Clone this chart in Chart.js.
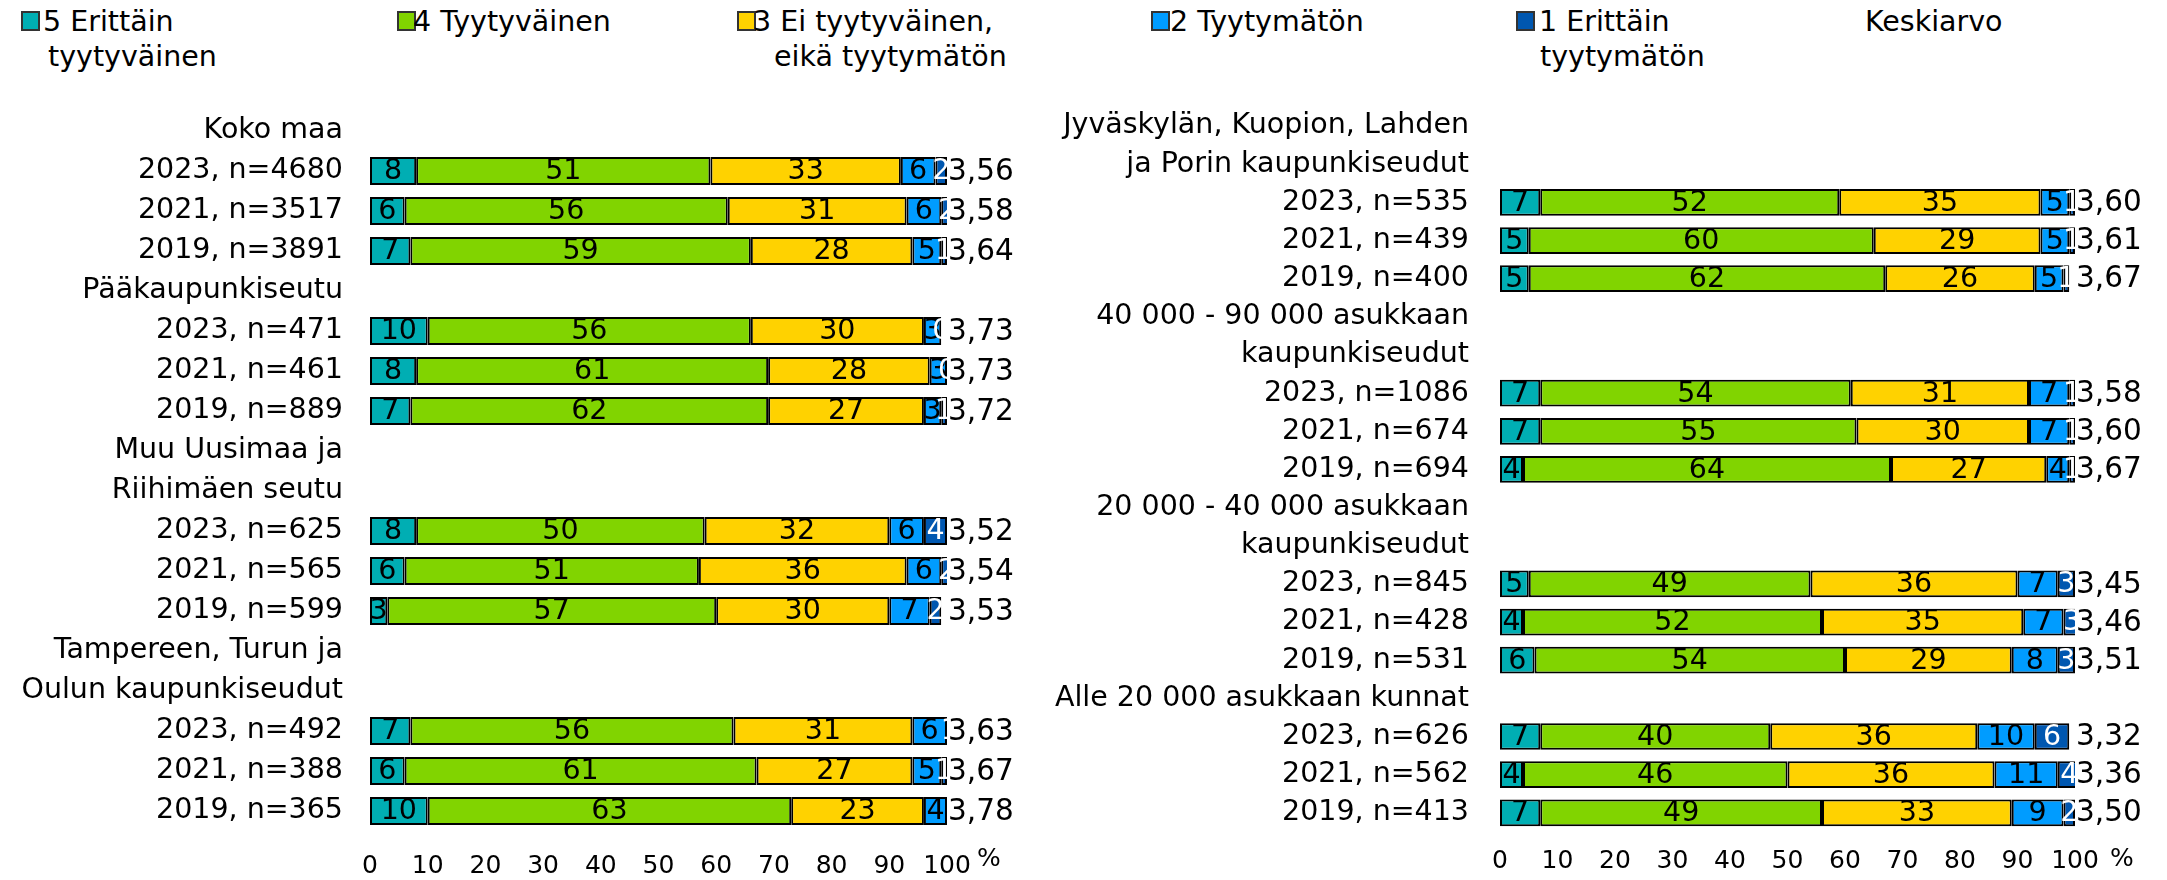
<!DOCTYPE html>
<html>
<head>
<meta charset="utf-8">
<script src="https://cdn.jsdelivr.net/npm/chart.js@4"></script>
<style>
  body { margin: 0; background: #fff; width: 2167px; height: 880px; overflow: hidden; position: relative;
         font-family: "DejaVu Sans", sans-serif; color: #000; }
  #left { position: absolute; left: 0; top: 0; }
  #right { position: absolute; left: 1040px; top: 0; }
  .lg { position: absolute; font-size: 28.5px; line-height: 35px; white-space: nowrap; }
  .box { position: absolute; width: 15px; height: 16px; border: 2px solid #333; }
</style>
</head>
<body>
<div class="box" style="left:21px;top:11px;background:#00AEB3"></div>
<div class="lg" style="left:43px;top:4px">5 Erittäin</div>
<div class="lg" style="left:48px;top:39px">tyytyväinen</div>
<div class="box" style="left:397px;top:11px;background:#81D400"></div>
<div class="lg" style="left:413px;top:4px">4 Tyytyväinen</div>
<div class="box" style="left:737px;top:11px;background:#FFD200"></div>
<div class="lg" style="left:753px;top:4px">3 Ei tyytyväinen,</div>
<div class="lg" style="left:774px;top:39px">eikä tyytymätön</div>
<div class="box" style="left:1151px;top:11px;background:#009CFF"></div>
<div class="lg" style="left:1170px;top:4px">2 Tyytymätön</div>
<div class="box" style="left:1516px;top:11px;background:#0057B0"></div>
<div class="lg" style="left:1539px;top:4px">1 Erittäin</div>
<div class="lg" style="left:1540px;top:39px">tyytymätön</div>
<div class="lg" style="left:1865px;top:4px">Keskiarvo</div>

<canvas id="left" width="1040" height="880"></canvas>
<canvas id="right" width="1127" height="880"></canvas>

<script>
"use strict";
const series_names = ["5 Erittäin tyytyväinen", "4 Tyytyväinen", "3 Ei tyytyväinen, eikä tyytymätön", "2 Tyytymätön", "1 Erittäin tyytymätön"];
const colors = ["#00AEB3", "#81D400", "#FFD200", "#009CFF", "#0057B0"];
const label_colors = ["#000", "#000", "#000", "#000", "#FFF"];
const x_ticks = [0, 10, 20, 30, 40, 50, 60, 70, 80, 90, 100];

// left panel
const left_labels = ["Koko maa", "2023, n=4680", "2021, n=3517", "2019, n=3891",
  "Pääkaupunkiseutu", "2023, n=471", "2021, n=461", "2019, n=889",
  "Muu Uusimaa ja", "Riihimäen seutu", "2023, n=625", "2021, n=565", "2019, n=599",
  "Tampereen, Turun ja", "Oulun kaupunkiseudut", "2023, n=492", "2021, n=388", "2019, n=365"];
const left_5 = [null, 8, 6, 7, null, 10, 8, 7, null, null, 8, 6, 3, null, null, 7, 6, 10];
const left_4 = [null, 51, 56, 59, null, 56, 61, 62, null, null, 50, 51, 57, null, null, 56, 61, 63];
const left_3 = [null, 33, 31, 28, null, 30, 28, 27, null, null, 32, 36, 30, null, null, 31, 27, 23];
const left_2 = [null, 6, 6, 5, null, 3, 3, 3, null, null, 6, 6, 7, null, null, 6, 5, 4];
const left_1 = [null, 2, 2, 1, null, 0, 0, 1, null, null, 4, 2, 2, null, null, 1, 1, null];
const left_mean = [null, 3.56, 3.58, 3.64, null, 3.73, 3.73, 3.72, null, null, 3.52, 3.54, 3.53, null, null, 3.63, 3.67, 3.78];

// right panel
const right_labels = ["Jyväskylän, Kuopion, Lahden", "ja Porin kaupunkiseudut", "2023, n=535", "2021, n=439", "2019, n=400",
  "40 000 - 90 000 asukkaan", "kaupunkiseudut", "2023, n=1086", "2021, n=674", "2019, n=694",
  "20 000 - 40 000 asukkaan", "kaupunkiseudut", "2023, n=845", "2021, n=428", "2019, n=531",
  "Alle 20 000 asukkaan kunnat", "2023, n=626", "2021, n=562", "2019, n=413"];
const right_5 = [null, null, 7, 5, 5, null, null, 7, 7, 4, null, null, 5, 4, 6, null, 7, 4, 7];
const right_4 = [null, null, 52, 60, 62, null, null, 54, 55, 64, null, null, 49, 52, 54, null, 40, 46, 49];
const right_3 = [null, null, 35, 29, 26, null, null, 31, 30, 27, null, null, 36, 35, 29, null, 36, 36, 33];
const right_2 = [null, null, 5, 5, 5, null, null, 7, 7, 4, null, null, 7, 7, 8, null, 10, 11, 9];
const right_1 = [null, null, 1, 1, 1, null, null, 1, 1, 1, null, null, 3, 3, 3, null, 6, 4, 2];
const right_mean = [null, null, 3.60, 3.61, 3.67, null, null, 3.58, 3.60, 3.67, null, null, 3.45, 3.46, 3.51, null, 3.32, 3.36, 3.50];

const FONT = '"DejaVu Sans", sans-serif';
Chart.defaults.font.family = FONT;
Chart.defaults.font.size = 28.5;
Chart.defaults.color = "#000";

const seg_labels = {
  id: "seg_labels",
  afterDatasetsDraw(chart, args, opts) {
    const ctx = chart.ctx;
    const xs = chart.scales.x, ys = chart.scales.y;
    ctx.save();
    ctx.font = "28.5px " + FONT;
    ctx.textBaseline = "middle";
    ctx.textAlign = "center";
    chart.data.datasets.forEach((ds, i) => {
      chart.getDatasetMeta(i).data.forEach((bar, j) => {
        const v = ds.data[j];
        if (v == null) return;
        ctx.fillStyle = label_colors[i];
        ctx.fillText(String(v), (bar.x + bar.base) / 2, ys.getPixelForValue(j) + 1);
      });
    });
    ctx.textAlign = "left";
    ctx.fillStyle = "#000";
    ctx.font = "29.5px " + FONT;
    opts.means.forEach((m, j) => {
      if (m == null) return;
      ctx.fillText(m.toFixed(2).replace(".", ","), xs.getPixelForValue(100) + 1, ys.getPixelForValue(j) + 1);
    });
    ctx.font = "25px " + FONT;
    ctx.fillText("%", xs.right + opts.pct_dx, 859);
    ctx.restore();
  }
};

function make_chart(id, labels, data, means, o) {
  new Chart(document.getElementById(id), {
    type: "bar",
    data: {
      labels: labels,
      datasets: data.map((d, i) => ({
        label: series_names[i],
        data: d,
        backgroundColor: colors[i],
        borderColor: "#000",
        borderWidth: 2,
        borderSkipped: false,
        barPercentage: 0.7,
        categoryPercentage: 1
      }))
    },
    options: {
      indexAxis: "y",
      responsive: false,
      animation: false,
      layout: { padding: { top: o.top, right: o.right, left: 0, bottom: 0 } },
      plugins: {
        legend: { display: false },
        tooltip: { enabled: false },
        seg_labels: { means: means, pct_dx: o.pct_dx }
      },
      scales: {
        x: {
          stacked: true, min: 0, max: 100,
          afterBuildTicks: s => { s.ticks = x_ticks.map(v => ({ value: v })); },
          grid: { display: false, drawTicks: false },
          border: { display: false },
          ticks: { font: { size: 25 }, padding: o.tick_pad, maxRotation: 0 },
          afterFit: s => { s.height = o.x_height; }
        },
        y: {
          stacked: true,
          grid: { display: false, drawTicks: false },
          border: { display: false },
          ticks: { autoSkip: false, padding: o.label_pad, font: { size: 28.5 } },
          afterFit: s => { s.width = o.y_width; }
        }
      }
    },
    plugins: [seg_labels]
  });
}

make_chart("left", left_labels, [left_5, left_4, left_3, left_2, left_1], left_mean,
  { top: 111, right: 93, x_height: 49, tick_pad: 20, y_width: 370, label_pad: 27, pct_dx: 30 });
make_chart("right", right_labels, [right_5, right_4, right_3, right_2, right_1], right_mean,
  { top: 107, right: 92, x_height: 44, tick_pad: 15, y_width: 460, label_pad: 31, pct_dx: 35 });
</script>
</body>
</html>
